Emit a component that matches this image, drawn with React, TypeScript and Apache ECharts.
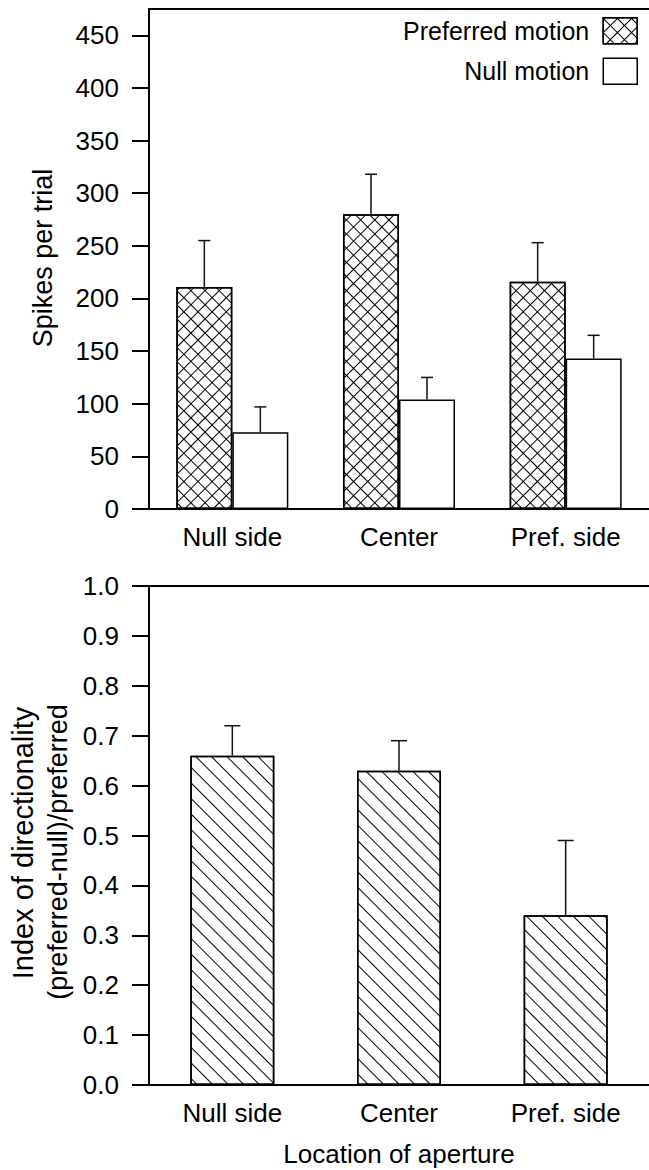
import React, { useEffect, useRef } from 'react';
import * as echarts from 'echarts';

const categories = ['Null side', 'Center', 'Pref. side'];
const preferredSpikes = [211, 280, 216];
const preferredSpikesErr = [255, 318, 253];
const nullSpikes = [73, 104, 143];
const nullSpikesErr = [97, 125, 165];
const spikeTicks = [0, 50, 100, 150, 200, 250, 300, 350, 400, 450];
const directionIndex = [0.66, 0.63, 0.34];
const directionIndexErr = [0.72, 0.69, 0.49];

const FONT = "'Liberation Sans', Arial, Helvetica, sans-serif";
const INK = '#000';

function errorBars(name: string, axisIndex: number, values: number[], tops: number[], offset: number, capHalf: number) {
  return {
    type: 'custom',
    name,
    xAxisIndex: axisIndex,
    yAxisIndex: axisIndex,
    z: 5,
    silent: true,
    data: values.map((v, i) => [i, v, tops[i]]),
    renderItem: (_params: any, api: any) => {
      const base = api.coord([api.value(0), api.value(1)]);
      const top = api.coord([api.value(0), api.value(2)]);
      const x = base[0] + offset;
      const st = { stroke: '#111', lineWidth: 1.5 };
      return {
        type: 'group',
        children: [
          { type: 'line', shape: { x1: x, y1: base[1], x2: x, y2: top[1] }, style: st },
          { type: 'line', shape: { x1: x - capHalf, y1: top[1], x2: x + capHalf, y2: top[1] }, style: st },
        ],
      };
    },
  };
}

export default function App() {
  const ref = useRef<HTMLDivElement>(null);
  useEffect(() => {
    if (!ref.current) return;
    const chart = echarts.init(ref.current, null, { renderer: 'svg' });
    const axisLineStyle = { color: INK, width: 2 };
    const labelStyle = { fontSize: 26, fontFamily: FONT, color: INK };
    const crossDecal = {
      symbol: 'rect',
      symbolSize: 1,
      color: INK,
      dashArrayX: [[10, 0], [1, 9]],
      dashArrayY: [1, 0, 9, 0],
      rotation: Math.PI / 4,
    };
    const lineDecal = {
      symbol: 'rect',
      symbolSize: 1,
      color: INK,
      dashArrayX: [10, 0],
      dashArrayY: [1, 10],
      rotation: Math.PI / 4,
    };
    const option: any = {
      animation: false,
      backgroundColor: '#fff',
      grid: [
        { left: 149, top: 9, right: 0, height: 500 },
        { left: 149, top: 586, right: 0, height: 499 },
      ],
      legend: {
        data: ['Preferred motion', 'Null motion'],
        orient: 'vertical',
        right: 11,
        top: 17,
        padding: 0,
        align: 'right',
        icon: 'rect',
        itemWidth: 34,
        itemHeight: 26,
        itemGap: 13,
        selectedMode: false,
        itemStyle: { borderColor: INK, borderWidth: 1.5 },
        textStyle: { fontSize: 25, fontFamily: FONT, color: INK, padding: [0, 9, 0, 0] },
      },
      xAxis: [
        {
          gridIndex: 0, type: 'category', data: categories,
          axisLine: { onZero: false, lineStyle: axisLineStyle },
          axisTick: { show: false },
          axisLabel: { ...labelStyle, margin: 15 },
        },
        {
          gridIndex: 1, type: 'category', data: categories,
          axisLine: { onZero: false, lineStyle: axisLineStyle },
          axisTick: { show: false },
          axisLabel: { ...labelStyle, margin: 15 },
          name: 'Location of aperture',
          nameLocation: 'middle',
          nameGap: 56,
          nameTextStyle: { ...labelStyle },
        },
        {
          gridIndex: 0, type: 'category', data: categories, position: 'top',
          axisLine: { onZero: false, lineStyle: axisLineStyle },
          axisTick: { show: false }, axisLabel: { show: false },
        },
        {
          gridIndex: 1, type: 'category', data: categories, position: 'top',
          axisLine: { onZero: false, lineStyle: axisLineStyle },
          axisTick: { show: false }, axisLabel: { show: false },
        },
      ],
      yAxis: [
        {
          gridIndex: 0, type: 'value', min: 0, max: 475, interval: 25,
          axisLine: { show: true, lineStyle: axisLineStyle },
          axisTick: { show: true, length: 17, lineStyle: { color: INK, width: 2 }, customValues: spikeTicks },
          axisLabel: { ...labelStyle, margin: 30, customValues: spikeTicks },
          splitLine: { show: false },
        },
        {
          gridIndex: 1, type: 'value', min: 0, max: 1, interval: 0.1,
          axisLine: { show: true, lineStyle: axisLineStyle },
          axisTick: { show: true, length: 17, lineStyle: { color: INK, width: 2 } },
          axisLabel: { ...labelStyle, margin: 30, formatter: (v: number) => v.toFixed(1) },
          splitLine: { show: false },
        },
      ],
      graphic: [
        {
          type: 'text', x: 43, y: 258, rotation: Math.PI / 2,
          style: { text: 'Spikes per trial', fontSize: 27, fontFamily: FONT, fill: INK, align: 'center', verticalAlign: 'middle' },
        },
        {
          type: 'text', x: 23, y: 843, rotation: Math.PI / 2,
          style: { text: 'Index of directionality', fontSize: 29, fontFamily: FONT, fill: INK, align: 'center', verticalAlign: 'middle' },
        },
        {
          type: 'text', x: 58, y: 852, rotation: Math.PI / 2,
          style: { text: '(preferred-null)/preferred', fontSize: 27, fontFamily: FONT, fill: INK, align: 'center', verticalAlign: 'middle' },
        },
      ],
      series: [
        {
          type: 'bar', name: 'Preferred motion', xAxisIndex: 0, yAxisIndex: 0,
          data: preferredSpikes, barWidth: 56, barGap: '0%',
          itemStyle: { color: '#fff', borderColor: INK, borderWidth: 1.5, decal: crossDecal },
        },
        {
          type: 'bar', name: 'Null motion', xAxisIndex: 0, yAxisIndex: 0,
          data: nullSpikes, barWidth: 56, barGap: '0%',
          itemStyle: { color: '#fff', borderColor: INK, borderWidth: 1.5 },
        },
        {
          type: 'bar', name: 'Index of directionality', xAxisIndex: 1, yAxisIndex: 1,
          data: directionIndex, barWidth: 84,
          itemStyle: { color: '#fff', borderColor: INK, borderWidth: 1.5, decal: lineDecal },
        },
        errorBars('Preferred error', 0, preferredSpikes, preferredSpikesErr, -28, 6),
        errorBars('Null error', 0, nullSpikes, nullSpikesErr, 28, 6),
        errorBars('Index error', 1, directionIndex, directionIndexErr, 0, 8),
      ],
    };
    chart.setOption(option);
    return () => chart.dispose();
  }, []);
  return <div ref={ref} style={{ position: 'absolute', left: 0, top: 0, width: 649, height: 1170 }} />;
}
